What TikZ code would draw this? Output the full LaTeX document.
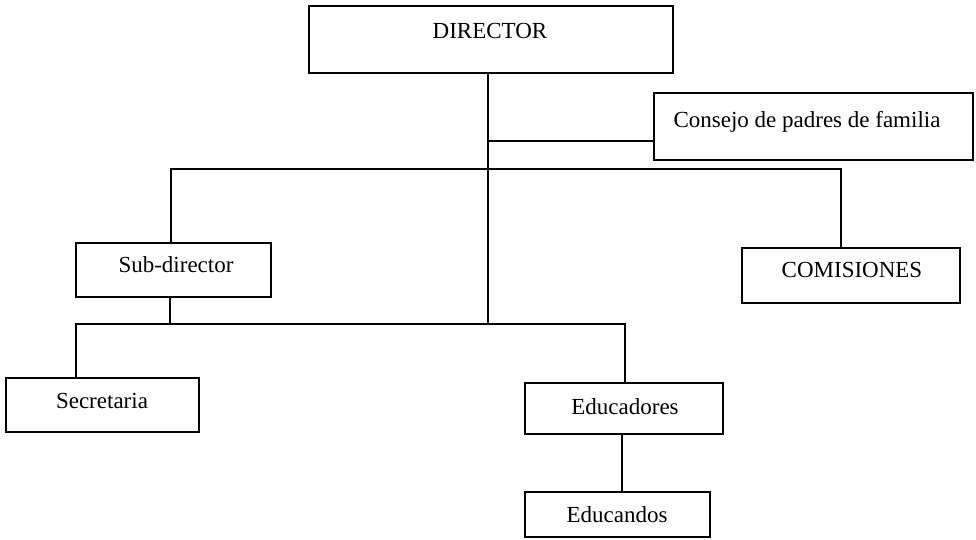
\documentclass[tikz,border=0pt]{standalone}
\usepackage{fontspec}
\setmainfont{Liberation Serif}
\begin{document}
\begin{tikzpicture}[x=1pt,y=-1pt,
  box/.style={draw=black, line width=1.6pt, rectangle, inner sep=0pt, fill=white},
  lbl/.style={inner sep=0pt, font=\fontsize{23}{23}\selectfont, text height=15pt, text depth=0pt, text=black},
  conn/.style={draw=black, line width=1.6pt}]
\useasboundingbox (0,0) rectangle (976,539);
% boxes
\node[box, minimum width=364pt, minimum height=67pt] (dir) at (491,39.5) {};
\node[box, minimum width=319pt, minimum height=67pt] (cons) at (813.5,126.5) {};
\node[box, minimum width=195pt, minimum height=54pt] (sub) at (173.5,270) {};
\node[box, minimum width=218pt, minimum height=55pt] (com) at (851,275.5) {};
\node[box, minimum width=193pt, minimum height=54pt] (sec) at (102.5,405) {};
\node[box, minimum width=198pt, minimum height=51pt] (edu) at (624,408.5) {};
\node[box, minimum width=185pt, minimum height=45pt] (edn) at (617.5,514.5) {};
% labels
\node[lbl] (dirT) at (490,31) {DIRECTOR};
\node[lbl] (consT) at (807,119.5) {Consejo de padres de familia};
\node[lbl] (subT) at (176,265) {Sub-director};
\node[lbl] (comT) at (852,270) {COMISIONES};
\node[lbl] (secT) at (102,400.5) {Secretaria};
\node[lbl] (eduT) at (625,406.5) {Educadores};
\node[lbl] (ednT) at (617,515) {Educandos};
% junction coordinates
\coordinate (stem) at (488,324);
\coordinate (jc) at (488,141);
\coordinate (tl) at (171,169);
\coordinate (tr) at (841,169);
\coordinate (sj) at (170,324);
\coordinate (bl) at (76,324);
\coordinate (br) at (625,324);
\coordinate (ej) at (622,463);
% connectors
\draw[conn] (dir.south -| stem) -- (stem);
\draw[conn] (jc) -- (jc -| cons.west);
\draw[conn] (tl |- sub.north) -- (tl) -- (tr) -- (tr |- com.north);
\draw[conn] (sj |- sub.south) -- (sj);
\draw[conn] (bl |- sec.north) -- (bl) -- (br) -- (br |- edu.north);
\draw[conn] (ej |- edu.south) -- (ej |- edn.north);
\end{tikzpicture}
\end{document}
